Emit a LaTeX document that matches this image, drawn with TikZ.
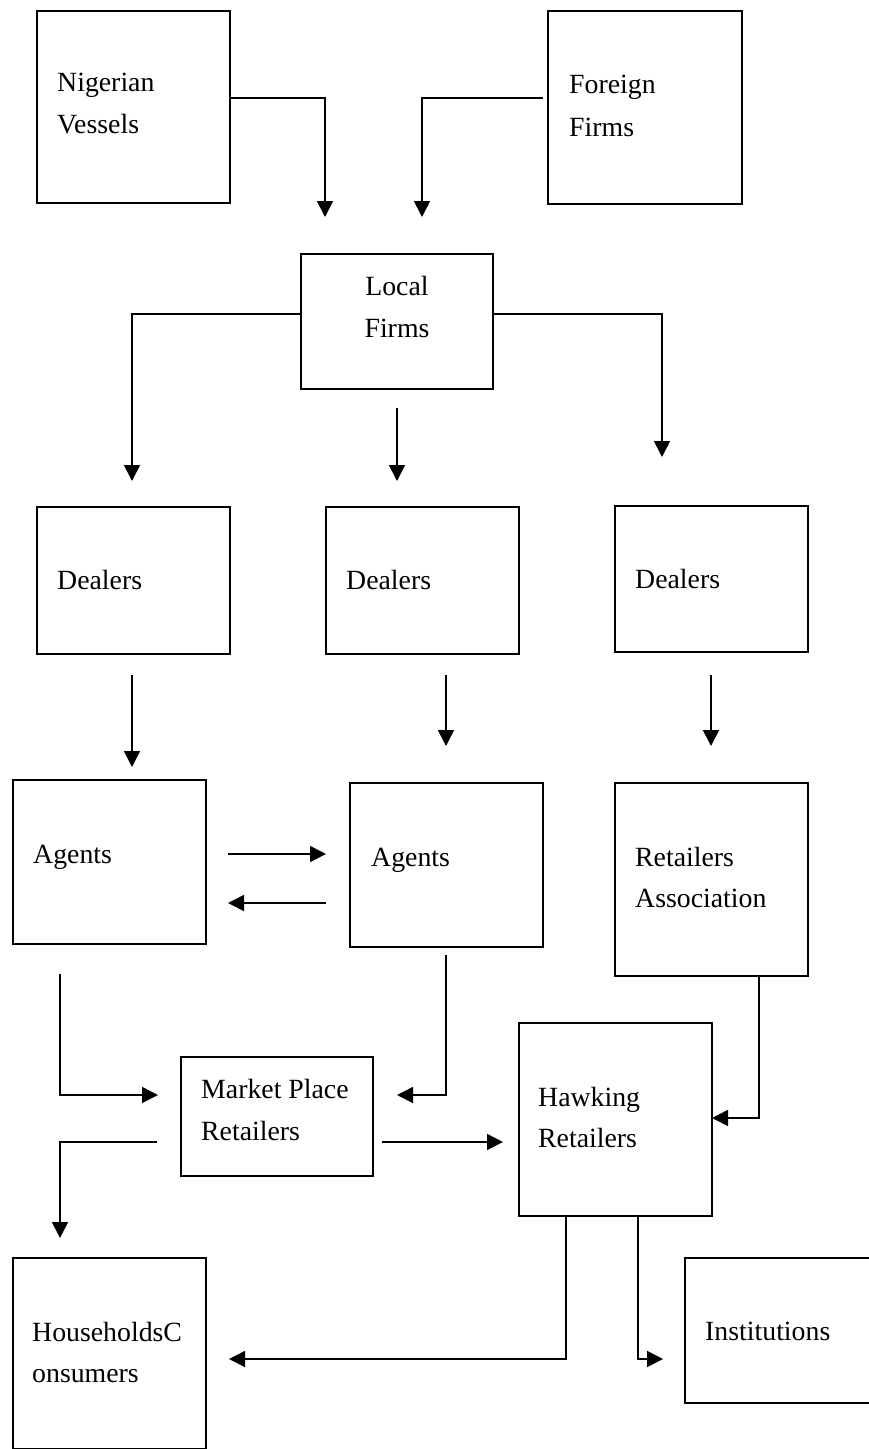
\documentclass[tikz,border=0pt]{standalone}
\usepackage{fontspec}
\setmainfont{Liberation Serif}
\usetikzlibrary{arrows.meta}
\tikzset{
  box/.style={draw, line width=2pt, rectangle, inner sep=0pt, anchor=north west},
  lbl/.style={anchor=base west, inner sep=0pt, font=\fontsize{27.8}{42}\selectfont},
  conn/.style={line width=1.6pt, -{Triangle[length=16pt,width=16pt]}},
  plain/.style={line width=1.6pt}
}
\begin{document}
\begin{tikzpicture}[x=1pt,y=-1pt]
\useasboundingbox (0,0) rectangle (868,1449);
% boxes
\node[box, minimum width=193pt, minimum height=192pt] (nv) at (36,10) {};
\node[box, minimum width=194pt, minimum height=193pt] (ff) at (547,10) {};
\node[box, minimum width=192pt, minimum height=135pt] (lf) at (300,253) {};
\node[box, minimum width=193pt, minimum height=147pt] (d1) at (36,506) {};
\node[box, minimum width=193pt, minimum height=147pt] (d2) at (325,506) {};
\node[box, minimum width=193pt, minimum height=146pt] (d3) at (614,505) {};
\node[box, minimum width=193pt, minimum height=164pt] (a1) at (12,779) {};
\node[box, minimum width=193pt, minimum height=164pt] (a2) at (349,782) {};
\node[box, minimum width=193pt, minimum height=193pt] (ra) at (614,782) {};
\node[box, minimum width=192pt, minimum height=119pt] (mp) at (180,1056) {};
\node[box, minimum width=193pt, minimum height=193pt] (hr) at (518,1022) {};
\node[box, minimum width=193pt, minimum height=191pt] (hc) at (12,1257) {};
\node[box, minimum width=200pt, minimum height=145pt] (in) at (684,1257) {};
% labels
\node[lbl] (tnv1) at (57,91) {Nigerian};
\node[lbl] (tnv2) at (57,133) {Vessels};
\node[lbl] (tff1) at (569,93) {Foreign};
\node[lbl] (tff2) at (569,136) {Firms};
\node[lbl, anchor=base] (tlf1) at (397,295) {Local};
\node[lbl, anchor=base] (tlf2) at (397,337) {Firms};
\node[lbl] (td1) at (57,589) {Dealers};
\node[lbl] (td2) at (346,589) {Dealers};
\node[lbl] (td3) at (635,588) {Dealers};
\node[lbl] (ta1) at (33,863) {Agents};
\node[lbl] (ta2) at (371,866) {Agents};
\node[lbl] (tra1) at (635,866) {Retailers};
\node[lbl] (tra2) at (635,907) {Association};
\node[lbl] (tmp1) at (201,1098) {Market Place};
\node[lbl] (tmp2) at (201,1140) {Retailers};
\node[lbl] (thr1) at (538,1106) {Hawking};
\node[lbl] (thr2) at (538,1147) {Retailers};
\node[lbl] (thc1) at (32,1341) {HouseholdsC};
\node[lbl] (thc2) at (32,1382) {onsumers};
\node[lbl] (tin) at (705,1340) {Institutions};
% free-end coordinates
\coordinate (e1) at (325,217);
\coordinate (s2) at (543,98);
\coordinate (e2) at (422,217);
\coordinate (e3) at (132,481);
\coordinate (s4) at (397,408);
\coordinate (e4) at (397,481);
\coordinate (e5) at (662,457);
\coordinate (s6) at (132,675);
\coordinate (e6) at (132,767);
\coordinate (s7) at (446,675);
\coordinate (e7) at (446,746);
\coordinate (s8) at (711,675);
\coordinate (e8) at (711,746);
\coordinate (s9) at (228,854);
\coordinate (e9) at (326,854);
\coordinate (s10) at (326,903);
\coordinate (e10) at (228,903);
\coordinate (s11) at (60,974);
\coordinate (e11) at (158,1095);
\coordinate (s12) at (446,955);
\coordinate (e12) at (397,1095);
\coordinate (s13) at (382,1142);
\coordinate (e13) at (503,1142);
\coordinate (s14) at (157,1142);
\coordinate (e14) at (60,1238);
\coordinate (e15) at (712,1118);
\coordinate (e16) at (229,1359);
\coordinate (e17) at (663,1359);
% connectors
\draw[conn] (nv.east |- 0,98) -| (e1);
\draw[conn] (s2) -| (e2);
\draw[conn] (lf.west |- 0,314) -| (e3);
\draw[conn] (s4) -- (e4);
\draw[conn] (lf.east |- 0,314) -| (e5);
\draw[conn] (s6) -- (e6);
\draw[conn] (s7) -- (e7);
\draw[conn] (s8) -- (e8);
\draw[conn] (s9) -- (e9);
\draw[conn] (s10) -- (e10);
\draw[conn] (s11) |- (e11);
\draw[conn] (s12) |- (e12);
\draw[conn] (s13) -- (e13);
\draw[conn] (s14) -| (e14);
\draw[conn] (ra.south -| 759,0) |- (e15);
\draw[conn] (hr.south -| 566,0) |- (e16);
\draw[conn] (hr.south -| 638,0) |- (e17);
\end{tikzpicture}
\end{document}
